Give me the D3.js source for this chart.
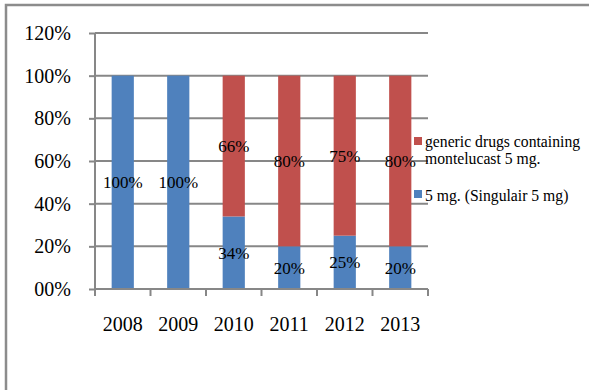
<!DOCTYPE html>
<html><head><meta charset="utf-8">
<script src="https://cdn.jsdelivr.net/npm/d3@7"></script>
<style>body{margin:0;background:#fff}svg{display:block}</style>
</head><body>
<script>
const years = ["2008","2009","2010","2011","2012","2013"];
const singulair = [100,100,34,20,25,20];
const generic = [0,0,66,80,75,80];
const yTicks = [0,20,40,60,80,100,120];
const yTickLabels = ["00%","20%","40%","60%","80%","100%","120%"];
const seriesNames = ["generic drugs containing|montelucast 5 mg.","5 mg. (Singulair 5 mg)"];
const colors = {blue:"#4F81BD", red:"#C0504D"};

const W=589,H=390;
const svg=d3.select("body").append("svg").attr("width",W).attr("height",H);
svg.append("rect").attr("x",6).attr("y",5).attr("width",W+10).attr("height",H+10)
  .attr("fill","#fff").attr("stroke","#8c8c8c").attr("stroke-width",2.5);

const x=d3.scaleBand().domain(years).range([95,428]).paddingInner(0.6).paddingOuter(0.3);
const y=d3.scaleLinear().domain([0,120]).range([289,33]);
const font="'Liberation Serif','Times New Roman',serif";
const grid="#878787";

// gridlines
svg.append("g").selectAll("line").data(yTicks.filter(d=>d>0)).join("line")
  .attr("x1",95).attr("x2",428).attr("y1",d=>y(d)).attr("y2",d=>y(d))
  .attr("stroke",grid).attr("stroke-width",2);

// y axis
const yAxis=d3.axisLeft(y).tickValues(yTicks).tickFormat((d,i)=>yTickLabels[i]).tickSize(6).tickPadding(18);
const gy=svg.append("g").attr("transform","translate(95,0)").call(yAxis);
gy.select(".domain").attr("stroke",grid).attr("stroke-width",2).attr("d","M0,"+y(120)+"V"+y(0));
gy.selectAll(".tick line").attr("stroke",grid).attr("stroke-width",2);
gy.selectAll("text").attr("font-family",font).attr("font-size",20).attr("fill","#000");

// bars
const stacks=years.map((yr,i)=>({yr,b:singulair[i],r:generic[i]}));
svg.append("g").selectAll("rect").data(stacks).join("rect")
  .attr("x",d=>x(d.yr)).attr("width",x.bandwidth())
  .attr("y",d=>y(d.b)).attr("height",d=>y(0)-y(d.b)).attr("fill",colors.blue);
svg.append("g").selectAll("rect").data(stacks.filter(d=>d.r>0)).join("rect")
  .attr("x",d=>x(d.yr)).attr("width",x.bandwidth())
  .attr("y",d=>y(d.b+d.r)).attr("height",d=>y(d.b)-y(d.b+d.r)).attr("fill",colors.red);

// x axis
svg.append("line").attr("x1",95).attr("x2",428).attr("y1",y(0)).attr("y2",y(0))
  .attr("stroke",grid).attr("stroke-width",2);
const bounds=[95].concat(years.map(yr=>x(yr)+x.bandwidth()/2+x.step()/2));
svg.append("g").selectAll("line").data(bounds).join("line")
  .attr("x1",d=>d).attr("x2",d=>d).attr("y1",y(0)).attr("y2",y(0)+7)
  .attr("stroke",grid).attr("stroke-width",2);
svg.append("g").selectAll("text").data(years).join("text")
  .attr("x",d=>x(d)+x.bandwidth()/2).attr("y",331).attr("text-anchor","middle")
  .attr("font-family",font).attr("font-size",20).text(d=>d);

// data labels
const lbl=svg.append("g").attr("font-family",font).attr("font-size",17).attr("text-anchor","middle");
stacks.forEach(d=>{
  const cx=x(d.yr)+x.bandwidth()/2;
  lbl.append("text").attr("x",cx).attr("y",y(d.b/2)).attr("dy","0.35em").text(d.b+"%");
  if(d.r>0) lbl.append("text").attr("x",cx).attr("y",y(d.b+d.r/2)).attr("dy","0.35em").text(d.r+"%");
});

// legend
const lg=svg.append("g").attr("font-family",font).attr("font-size",15.7);
lg.append("rect").attr("x",414).attr("y",137).attr("width",8).attr("height",8).attr("fill",colors.red);
const l1=seriesNames[0].split("|");
lg.append("text").attr("x",425).attr("y",147).text(l1[0]);
lg.append("text").attr("x",425).attr("y",164).text(l1[1]);
lg.append("rect").attr("x",414).attr("y",190).attr("width",8).attr("height",8).attr("fill",colors.blue);
lg.append("text").attr("x",425).attr("y",201).text(seriesNames[1]);
</script>
</body></html>
